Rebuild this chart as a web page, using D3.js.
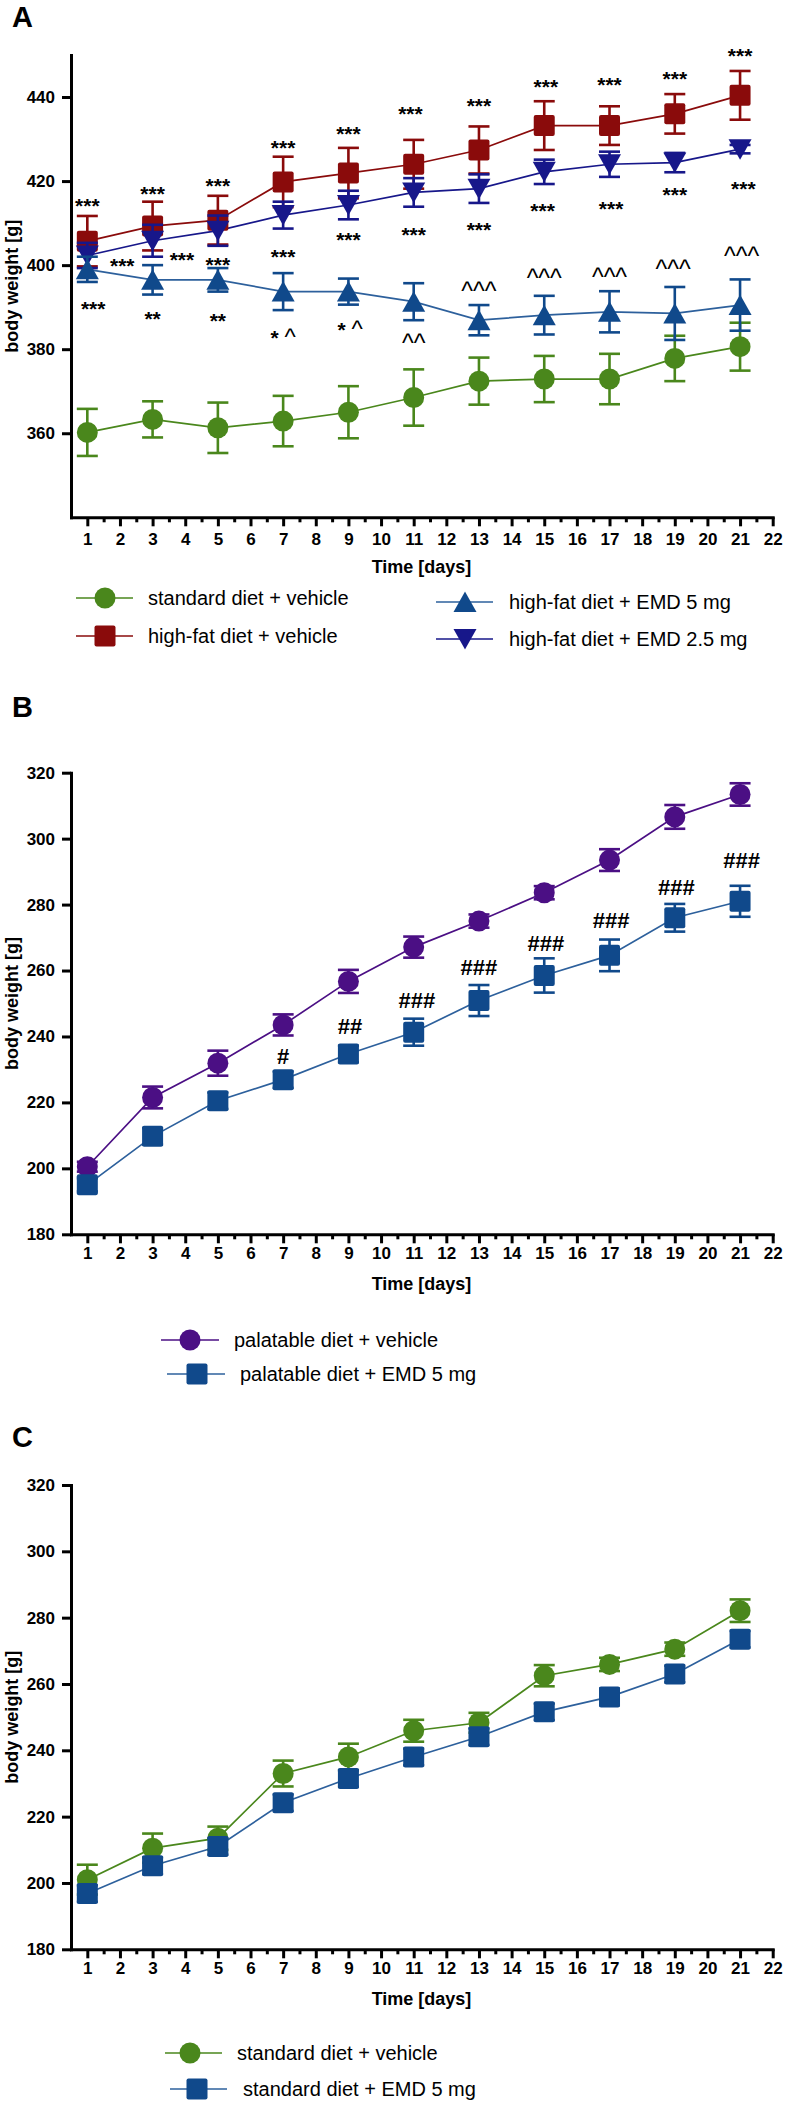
<!DOCTYPE html>
<html><head><meta charset="utf-8">
<script src="https://cdn.jsdelivr.net/npm/d3@7"></script>
<style>body{margin:0;background:#fff} svg{display:block}</style>
</head><body>
<svg id="chart" width="786" height="2103"></svg>
<script>
// ---------- DATA ----------
const days = [1,3,5,7,9,11,13,15,17,19,21];
const xTickDays = d3.range(1, 23);
const xMinorDays = d3.range(1.5, 22, 1);

// Panel A (body weight, g; mean and SEM)
const aTicks = [360, 380, 400, 420, 440];
const aStdVeh    = [360.2, 363.3, 361.3, 362.9, 365.0, 368.5, 372.4, 372.9, 372.9, 377.8, 380.6];
const aStdVehSem = [5.6, 4.3, 6.0, 6.0, 6.2, 6.7, 5.6, 5.5, 6.0, 5.4, 5.7];
const aHfVeh     = [405.7, 409.3, 410.7, 419.8, 421.9, 424.0, 427.4, 433.2, 433.2, 436.0, 440.4];
const aHfVehSem  = [6.0, 5.8, 5.8, 6.0, 6.0, 5.8, 5.6, 5.8, 4.6, 4.7, 5.8];
const aHfEmd5    = [399.0, 396.5, 396.5, 393.7, 393.7, 391.3, 386.9, 388.1, 388.9, 388.5, 390.5];
const aHfEmd5Sem = [3.0, 3.5, 2.8, 4.4, 3.1, 4.4, 3.6, 4.6, 4.9, 6.3, 6.1];
const aHfEmd25   = [402.3, 405.8, 408.2, 411.9, 414.3, 417.3, 418.2, 422.2, 424.0, 424.4, 427.6];
const aHfEmd25Sem= [3.0, 3.8, 3.6, 3.2, 3.4, 3.4, 3.4, 2.9, 3.0, 2.3, 1.0];

// Panel A significance marks (text, day position, value position)
const aRedMark     = ["***","***","***","***","***","***","***","***","***","***","***"];
const aRedMarkDay  = [1, 3, 5, 7, 9, 10.9, 13, 15.05, 17, 19, 21];
const aRedMarkY    = [415.5, 418.3, 420.2, 429.3, 432.6, 437.2, 439.3, 443.8, 444.3, 445.7, 451.2];
const aNavyMark    = ["***","***","***","***","***","***","***","***","***","***","***"];
const aNavyMarkDay = [2.07, 3.9, 5, 7, 9, 11, 13, 14.95, 17.05, 19, 21.1];
const aNavyMarkY   = [401.2, 402.6, 401.4, 403.3, 407.2, 408.6, 409.8, 414.1, 414.6, 418.1, 419.5];
const aBlueMark    = ["***","**","**","* ^","* ^","^^","^^^","^^^","^^^","^^^","^^^"];
const aBlueMarkDay = [1.18, 3, 5, 7, 9.05, 11, 13, 15, 17, 18.95, 21.05];
const aBlueMarkY   = [391.0, 388.4, 388.1, 383.9, 385.8, 382.2, 394.6, 397.7, 398.1, 400.0, 403.1];

// Panel B
const bTicks = [180, 200, 220, 240, 260, 280, 300, 320];
const bPalVeh    = [200.5, 221.5, 231.9, 243.5, 256.7, 267.1, 275.0, 283.6, 293.5, 306.6, 313.4];
const bPalVehSem = [1.5, 3.3, 3.8, 3.2, 3.5, 3.2, 2.0, 2.0, 3.3, 3.6, 3.4];
const bPalEmd    = [195.0, 209.7, 220.5, 226.9, 234.7, 241.3, 250.9, 258.5, 264.6, 276.0, 281.0];
const bPalEmdSem = [2.0, 2.5, 2.5, 2.5, 2.5, 4.1, 4.7, 5.2, 4.8, 4.2, 4.7];
const bMark    = ["#","##","###","###","###","###","###","###"];
const bMarkDay = [7, 9.05, 11.1, 13, 15.05, 17.05, 19.05, 21.05];
const bMarkY   = [234.2, 243.3, 251.1, 260.9, 268.3, 275.4, 285.2, 293.5];

// Panel C
const cTicks = [180, 200, 220, 240, 260, 280, 300, 320];
const cStdVeh    = [201.0, 210.5, 213.5, 233.0, 238.0, 245.9, 248.3, 262.5, 265.9, 270.5, 282.1];
const cStdVehSem = [4.5, 4.4, 3.5, 3.9, 4.0, 3.3, 3.0, 3.2, 2.0, 2.0, 3.4];
const cStdEmd    = [196.8, 205.2, 211.0, 224.2, 231.5, 238.0, 244.1, 251.6, 256.1, 263.0, 273.5];
const cStdEmdSem = [2.5, 2.5, 2.5, 2.5, 2.5, 2.5, 2.5, 2.5, 2.5, 2.5, 2.5];

// ---------- STYLE ----------
const FONT = '"Liberation Sans", Arial, Helvetica, sans-serif';
const GREEN = "#4a871c", RED = "#8a0b0b", BLUE = "#10498b", BLUE_LINE = "#2d609c",
      NAVY = "#17178a", PURPLE = "#4b0f84";

const svg = d3.select("#chart");

function shapePath(shape, cx, cy) {
  const p = d3.path();
  if (shape === "circle") { p.arc(cx, cy, 10.5, 0, 2 * Math.PI); }
  else if (shape === "up") { p.moveTo(cx, cy - 10.5); p.lineTo(cx + 11.5, cy + 10); p.lineTo(cx - 11.5, cy + 10); p.closePath(); }
  else if (shape === "down") { p.moveTo(cx, cy + 10.5); p.lineTo(cx + 11.5, cy - 10); p.lineTo(cx - 11.5, cy - 10); p.closePath(); }
  return p.toString();
}
function marker(g, shape, cx, cy, color) {
  if (shape === "square") {
    g.append("rect").attr("x", cx - 10.5).attr("y", cy - 10.5).attr("width", 21).attr("height", 21)
      .attr("rx", 2).attr("fill", color);
  } else {
    g.append("path").attr("d", shapePath(shape, cx, cy)).attr("fill", color);
  }
}

function makePanel(cfg) {
  const x = d3.scaleLinear().domain([0.5, 22]).range([71, 772.7]);
  const y = d3.scaleLinear().domain(cfg.yDomain).range([cfg.yBottom, cfg.yTop]);
  const g = svg.append("g");

  g.append("text").attr("x", 12).attr("y", cfg.letterY).text(cfg.letter)
    .attr("font-family", FONT).attr("font-weight", "bold").attr("font-size", 29);

  const ya = g.append("g").attr("transform", "translate(71,0)")
    .call(d3.axisLeft(y).tickValues(cfg.yTicks).tickSize(9).tickSizeOuter(0).tickPadding(7).tickFormat(d3.format("d")));
  const xa = g.append("g").attr("transform", `translate(0,${cfg.yBottom})`)
    .call(d3.axisBottom(x).tickValues(xTickDays).tickSize(9).tickSizeOuter(0).tickPadding(cfg.xPad).tickFormat(d3.format("d")));
  const xm = g.append("g").attr("transform", `translate(0,${cfg.yBottom})`)
    .call(d3.axisBottom(x).tickValues(xMinorDays).tickSize(5).tickSizeOuter(0).tickFormat(() => ""));
  xm.select(".domain").remove();
  [ya, xa, xm].forEach(a => {
    a.attr("font-family", FONT).attr("font-size", 17).attr("font-weight", "bold");
    a.select(".domain").attr("stroke", "#000").attr("stroke-width", 3).attr("stroke-linecap", "square");
    a.selectAll(".tick line").attr("stroke", "#000").attr("stroke-width", 3);
    a.selectAll(".tick text").attr("fill", "#000");
  });

  g.append("text").attr("x", 421.5).attr("y", cfg.yBottom + 56).attr("text-anchor", "middle")
    .attr("font-family", FONT).attr("font-weight", "bold").attr("font-size", 18).text("Time [days]");
  g.append("text").attr("transform", `translate(18,${(cfg.yBottom + cfg.yTop) / 2}) rotate(-90)`)
    .attr("text-anchor", "middle").attr("font-family", FONT).attr("font-weight", "bold")
    .attr("font-size", 18).text("body weight [g]");

  const line = d3.line().x(p => x(p.d)).y(p => y(p.v));
  const sers = cfg.series.map(s => ({...s, pts: days.map((d, i) => ({d, v: s.values[i], e: s.sem[i]}))}));
  sers.forEach(s => {
    g.append("path").datum(s.pts).attr("d", line).attr("fill", "none")
      .attr("stroke", s.lineColor).attr("stroke-width", 1.7);
  });
  sers.forEach(s => {
    const sg = g.append("g");
    s.pts.forEach(p => {
      const y0 = y(p.v - p.e), y1 = y(p.v + p.e), cx = x(p.d);
      sg.append("line").attr("x1", cx).attr("x2", cx).attr("y1", y0).attr("y2", y1)
        .attr("stroke", s.color).attr("stroke-width", 2.6);
      [y0, y1].forEach(yy => sg.append("line").attr("x1", cx - 10.5).attr("x2", cx + 10.5)
        .attr("y1", yy).attr("y2", yy).attr("stroke", s.color).attr("stroke-width", 2.6));
      marker(sg, s.shape, cx, y(p.v), s.color);
    });
  });

  (cfg.marks || []).forEach(m => {
    m.text.forEach((t, i) => {
      const cx = x(m.day[i]), cy = y(m.val[i]);
      const txt = g.append("text").attr("x", cx).attr("y", cy).attr("text-anchor", "middle")
        .attr("font-family", FONT).attr("fill", "#000");
      if (t.includes("#")) {
        txt.attr("font-size", 22).attr("font-weight", "bold").attr("dy", "0.36em").text(t);
      } else if (!t.includes("*")) {
        txt.attr("font-size", 25).attr("dy", "0.5em").text(t);
      } else {
        txt.attr("font-size", 21).attr("font-weight", "bold").attr("dy", "0.6em");
        t.split("").forEach(ch => {
          const ts = txt.append("tspan").text(ch);
          if (ch === "^") ts.attr("font-size", 24).attr("font-weight", "normal");
        });
      }
    });
  });

  cfg.legend.forEach(L => {
    const lg = g.append("g");
    lg.append("line").attr("x1", L.lx0).attr("x2", L.lx1).attr("y1", L.cy).attr("y2", L.cy)
      .attr("stroke", L.lineColor).attr("stroke-width", 1.7);
    marker(lg, L.shape, L.sx, L.cy, L.color);
    lg.append("text").attr("x", L.tx).attr("y", L.cy).attr("dy", "0.35em")
      .attr("font-family", FONT).attr("font-size", 20).attr("fill", "#000").text(L.label);
  });
}

makePanel({
  letter: "A", letterY: 27, yDomain: [340, 450], yTop: 55, yBottom: 517.3, yTicks: aTicks, xPad: 7,
  series: [
    {values: aStdVeh, sem: aStdVehSem, color: GREEN, lineColor: GREEN, shape: "circle"},
    {values: aHfVeh, sem: aHfVehSem, color: RED, lineColor: RED, shape: "square"},
    {values: aHfEmd25, sem: aHfEmd25Sem, color: NAVY, lineColor: NAVY, shape: "down"},
    {values: aHfEmd5, sem: aHfEmd5Sem, color: BLUE, lineColor: BLUE_LINE, shape: "up"}
  ],
  marks: [
    {text: aRedMark, day: aRedMarkDay, val: aRedMarkY},
    {text: aNavyMark, day: aNavyMarkDay, val: aNavyMarkY},
    {text: aBlueMark, day: aBlueMarkDay, val: aBlueMarkY}
  ],
  legend: [
    {label: "standard diet + vehicle", color: GREEN, lineColor: GREEN, shape: "circle", sx: 105, lx0: 76, lx1: 133, tx: 148, cy: 598},
    {label: "high-fat diet + vehicle", color: RED, lineColor: RED, shape: "square", sx: 105, lx0: 76, lx1: 133, tx: 148, cy: 636},
    {label: "high-fat diet + EMD 5 mg", color: BLUE, lineColor: BLUE_LINE, shape: "up", sx: 465, lx0: 436, lx1: 493, tx: 509, cy: 602},
    {label: "high-fat diet + EMD 2.5 mg", color: NAVY, lineColor: NAVY, shape: "down", sx: 465, lx0: 436, lx1: 493, tx: 509, cy: 639}
  ]
});

makePanel({
  letter: "B", letterY: 717, yDomain: [180, 320], yTop: 772.7, yBottom: 1234.3, yTicks: bTicks, xPad: 4,
  series: [
    {values: bPalVeh, sem: bPalVehSem, color: PURPLE, lineColor: PURPLE, shape: "circle"},
    {values: bPalEmd, sem: bPalEmdSem, color: BLUE, lineColor: BLUE_LINE, shape: "square"}
  ],
  marks: [{text: bMark, day: bMarkDay, val: bMarkY}],
  legend: [
    {label: "palatable diet + vehicle", color: PURPLE, lineColor: PURPLE, shape: "circle", sx: 190, lx0: 161, lx1: 219, tx: 234, cy: 1340},
    {label: "palatable diet + EMD 5 mg", color: BLUE, lineColor: BLUE_LINE, shape: "square", sx: 197, lx0: 167, lx1: 225, tx: 240, cy: 1374}
  ]
});

makePanel({
  letter: "C", letterY: 1447, yDomain: [180, 320], yTop: 1485, yBottom: 1949.3, yTicks: cTicks, xPad: 4,
  series: [
    {values: cStdVeh, sem: cStdVehSem, color: GREEN, lineColor: GREEN, shape: "circle"},
    {values: cStdEmd, sem: cStdEmdSem, color: BLUE, lineColor: BLUE_LINE, shape: "square"}
  ],
  legend: [
    {label: "standard diet + vehicle", color: GREEN, lineColor: GREEN, shape: "circle", sx: 190, lx0: 165, lx1: 222, tx: 237, cy: 2053},
    {label: "standard diet + EMD 5 mg", color: BLUE, lineColor: BLUE_LINE, shape: "square", sx: 197, lx0: 170, lx1: 227, tx: 243, cy: 2089}
  ]
});
</script>
</body></html>
